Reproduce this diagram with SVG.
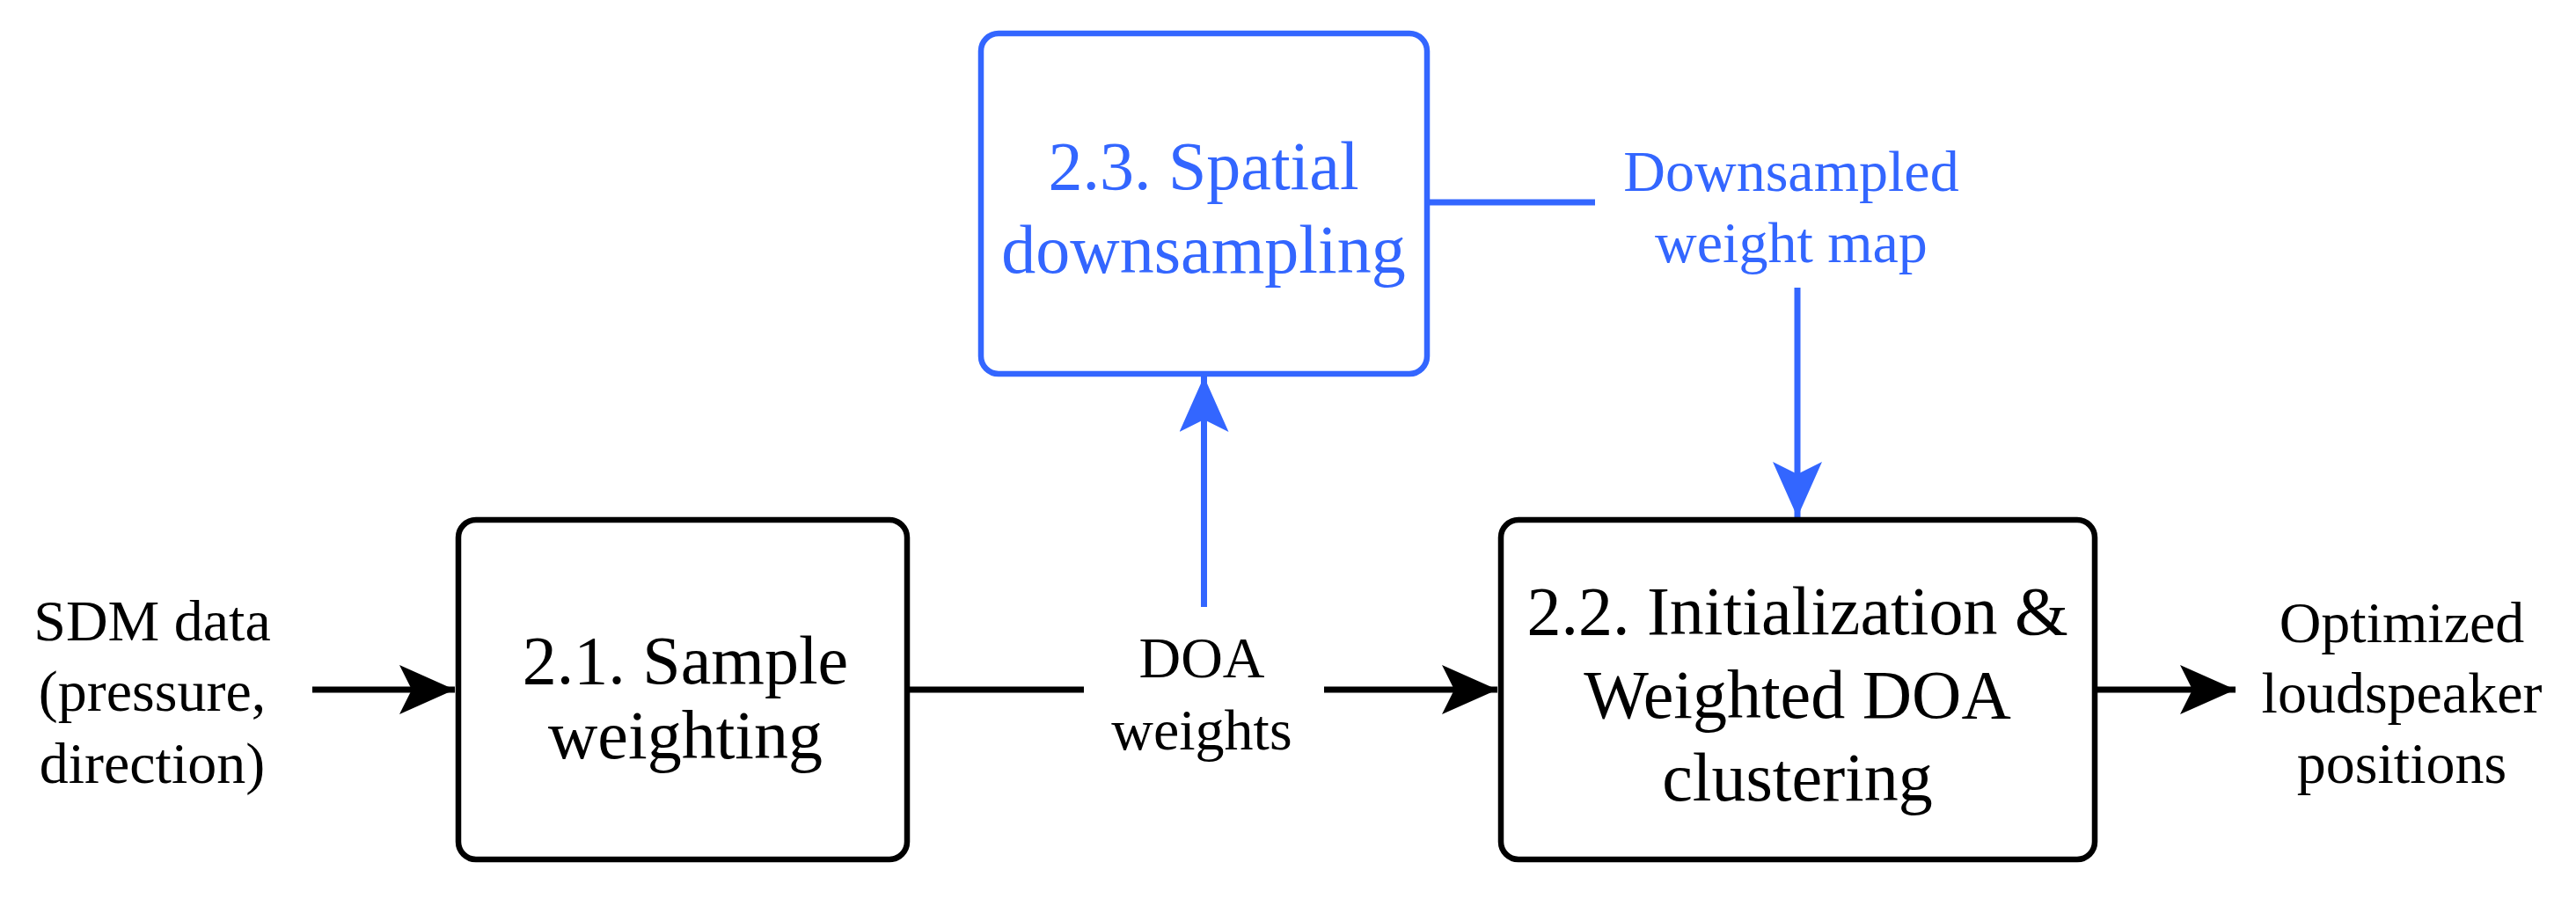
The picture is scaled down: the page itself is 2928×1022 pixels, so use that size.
<svg xmlns="http://www.w3.org/2000/svg" width="2928" height="1022" viewBox="0 0 2928 1022">
  <style>
    .box { fill: #ffffff; stroke-width: 6.5; }
    .k { stroke: #000000; }
    .b { stroke: #3366ff; }
    .t { text-anchor: middle; }
    .big { font-size: 78px; }
    .lbl { font-size: 66px; }
    .tk { fill: #000000; }
    .tb { fill: #3366ff; }
    .ln { fill: none; stroke-width: 7; }
  </style>
  <defs>
    <marker id="ak" markerUnits="userSpaceOnUse" viewBox="0 0 63 56" refX="63" refY="28" markerWidth="63" markerHeight="56" orient="auto">
      <path d="M0,0 L63,28 L0,56 L14,28 Z" fill="#000000"/>
    </marker>
    <marker id="ab" markerUnits="userSpaceOnUse" viewBox="0 0 63 56" refX="63" refY="28" markerWidth="63" markerHeight="56" orient="auto">
      <path d="M0,0 L63,28 L0,56 L14,28 Z" fill="#3366ff"/>
    </marker>
  </defs>
  <rect width="2928" height="1022" fill="#ffffff"/>

  <g id="connectors">
    <line class="ln k" x1="355" y1="784" x2="517" y2="784" marker-end="url(#ak)"/>
    <line class="ln k" x1="1031" y1="784" x2="1232" y2="784"/>
    <line class="ln k" x1="1505" y1="784" x2="1702" y2="784" marker-end="url(#ak)"/>
    <line class="ln b" x1="1368.5" y1="690" x2="1368.5" y2="428" marker-end="url(#ab)"/>
    <line class="ln b" x1="1622" y1="230" x2="1813" y2="230"/>
    <line class="ln b" x1="2043" y1="327" x2="2043" y2="588" marker-end="url(#ab)"/>
    <line class="ln k" x1="2381" y1="784" x2="2541" y2="784" marker-end="url(#ak)"/>
  </g>

  <g font-family="Liberation Serif, Times New Roman, serif">
  <g id="node-2-3">
    <rect class="box b" x="1115" y="38" width="507" height="387" rx="20" ry="20"/>
    <text class="t big tb" x="1368" y="215">2.3. Spatial</text>
    <text class="t big tb" x="1368" y="310">downsampling</text>
  </g>

  <g id="node-2-1">
    <rect class="box k" x="521" y="591" width="510" height="386" rx="20" ry="20"/>
    <text class="t big tk" x="779" y="777">2.1. Sample</text>
    <text class="t big tk" x="779" y="862">weighting</text>
  </g>

  <g id="node-2-2">
    <rect class="box k" x="1706" y="591" width="675" height="386" rx="20" ry="20"/>
    <text class="t big tk" x="2043" y="721">2.2. Initialization &amp;</text>
    <text class="t big tk" x="2043" y="816">Weighted DOA</text>
    <text class="t big tk" x="2043" y="910">clustering</text>
  </g>

  <g id="label-input">
    <text class="t lbl tk" x="173" y="728">SDM data</text>
    <text class="t lbl tk" x="173" y="808">(pressure,</text>
    <text class="t lbl tk" x="173" y="890">direction)</text>
  </g>

  <g id="label-doa">
    <text class="t lbl tk" x="1366" y="770">DOA</text>
    <text class="t lbl tk" x="1366" y="852">weights</text>
  </g>

  <g id="label-downsampled">
    <text class="t lbl tb" x="2036" y="217">Downsampled</text>
    <text class="t lbl tb" x="2036" y="298">weight map</text>
  </g>

  <g id="label-output">
    <text class="t lbl tk" x="2730" y="730">Optimized</text>
    <text class="t lbl tk" x="2730" y="810">loudspeaker</text>
    <text class="t lbl tk" x="2730" y="890">positions</text>
  </g>
  </g>
</svg>
